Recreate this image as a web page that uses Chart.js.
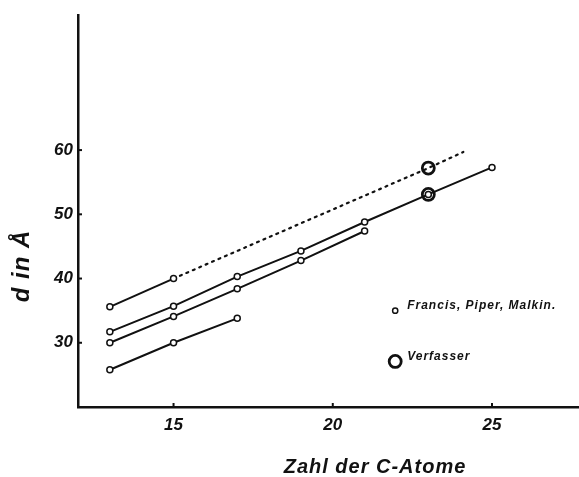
<!DOCTYPE html>
<html>
<head>
<meta charset="utf-8">
<script src="https://cdn.jsdelivr.net/npm/chart.js@4.4.1/dist/chart.umd.min.js"></script>
<style>
  html, body { margin: 0; padding: 0; background: #fff; }
  #wrap { width: 579px; height: 477px; }
</style>
</head>
<body>
<div id="wrap"><canvas id="myChart" width="579" height="477"></canvas></div>
<script>
// Zahl der C-Atome (x) gegen d in Å (y)
var xTicks = [15, 20, 25];
var yTicks = [30, 40, 50, 60];

var seriesAX = [13, 15];
var seriesAY = [35.6, 40.0];

var dottedX = [15, 23, 24.1];
var dottedY = [40.0, 57.2, 59.7];

var seriesBX = [13, 15, 17, 19, 21, 23, 25];
var seriesBY = [31.7, 35.7, 40.3, 44.3, 48.8, 53.1, 57.3];

var seriesCX = [13, 15, 17, 19, 21];
var seriesCY = [30.0, 34.1, 38.4, 42.8, 47.4];

var seriesDX = [13, 15, 17];
var seriesDY = [25.8, 30.0, 33.8];

var verfasserX = [23, 23];
var verfasserY = [57.2, 53.1];

var legendLabels = ["Francis, Piper, Malkin.", "Verfasser"];
var legendX = [21.96, 21.96];
var legendY = [35.0, 27.1];

var INK = "#111";
var FONT = "'Liberation Sans', Arial, sans-serif";

function toPoints(xs, ys) {
    return xs.map(function (x, i) {
        return { x: x, y: ys[i] };
    });
}

function smallLine(xs, ys) {
    return {
        data: toPoints(xs, ys),
        borderColor: INK,
        borderWidth: 2,
        pointRadius: 3,
        pointBorderWidth: 1.5,
        pointBorderColor: INK,
        pointBackgroundColor: "#fff",
        showLine: true,
        tension: 0,
    };
}

var datasets = [
    smallLine(seriesAX, seriesAY),
    {
        data: toPoints(dottedX, dottedY),
        borderColor: INK,
        borderWidth: 2.2,
        borderDash: [2, 5],
        borderCapStyle: "round",
        pointRadius: 0,
        showLine: true,
    },
    smallLine(seriesBX, seriesBY),
    smallLine(seriesCX, seriesCY),
    smallLine(seriesDX, seriesDY),
    {
        data: toPoints(verfasserX, verfasserY),
        showLine: false,
        pointRadius: 6,
        pointBorderWidth: 2.8,
        pointBorderColor: INK,
        pointBackgroundColor: "rgba(255,255,255,0)",
    },
    // legend markers
    {
        data: [{ x: legendX[0], y: legendY[0] }],
        showLine: false,
        pointRadius: 2.6,
        pointBorderWidth: 1.5,
        pointBorderColor: INK,
        pointBackgroundColor: "#fff",
    },
    {
        data: [{ x: legendX[1], y: legendY[1] }],
        showLine: false,
        pointRadius: 6,
        pointBorderWidth: 2.8,
        pointBorderColor: INK,
        pointBackgroundColor: "#fff",
    },
];

var decorPlugin = {
    id: "decor",
    afterDraw: function (chart) {
        var ctx = chart.ctx;
        var xs = chart.scales.x;
        var ys = chart.scales.y;
        var area = chart.chartArea;
        ctx.save();
        ctx.strokeStyle = INK;
        ctx.lineWidth = 2;
        // inward tick marks
        xTicks.forEach(function (v) {
            var px = xs.getPixelForValue(v);
            ctx.beginPath();
            ctx.moveTo(px, area.bottom);
            ctx.lineTo(px, area.bottom - 4);
            ctx.stroke();
        });
        yTicks.forEach(function (v) {
            var py = ys.getPixelForValue(v);
            ctx.beginPath();
            ctx.moveTo(area.left, py);
            ctx.lineTo(area.left + 4, py);
            ctx.stroke();
        });

        ctx.fillStyle = INK;
        // legend texts
        ctx.font = "italic bold 12px " + FONT;
        ctx.letterSpacing = "1px";
        ctx.textBaseline = "middle";
        ctx.textAlign = "left";
        legendLabels.forEach(function (txt, i) {
            var px = xs.getPixelForValue(legendX[i]);
            var py = ys.getPixelForValue(legendY[i]);
            ctx.fillText(txt, px + 12, py - 5);
        });

        // axis titles
        ctx.font = "italic bold 20px " + FONT;
        ctx.textAlign = "center";
        ctx.fillText("Zahl der C-Atome", 375, 467);

        ctx.translate(22, 266);
        ctx.rotate(-Math.PI / 2);
        ctx.font = "italic bold 24px " + FONT;
        ctx.fillText("d in Å", 0, 0);
        ctx.restore();
    },
};

var ctx = document.getElementById("myChart");
new Chart(ctx, {
    type: "scatter",
    data: { datasets: datasets },
    options: {
        responsive: false,
        animation: false,
        layout: { autoPadding: false, padding: { top: 10, right: 1, left: 0, bottom: 0 } },
        plugins: {
            legend: { display: false },
            tooltip: { enabled: false },
        },
        scales: {
            x: {
                type: "linear",
                min: 12,
                max: 27.7,
                afterBuildTicks: function (scale) {
                    scale.ticks = xTicks.map(function (v) { return { value: v }; });
                },
                afterFit: function (scale) { scale.height = 70; },
                grid: { display: false, drawTicks: false },
                border: { display: true, color: INK, width: 2.5 },
                ticks: {
                    padding: 8,
                    color: INK,
                    maxRotation: 0,
                    font: { family: FONT, size: 17, style: "italic", weight: "bold" },
                },
            },
            y: {
                type: "linear",
                min: 20,
                max: 81,
                afterBuildTicks: function (scale) {
                    scale.ticks = yTicks.map(function (v) { return { value: v }; });
                },
                afterFit: function (scale) { scale.width = 78; },
                grid: { display: false, drawTicks: false },
                border: { display: true, color: INK, width: 2.5 },
                ticks: {
                    padding: 5,
                    color: INK,
                    font: { family: FONT, size: 17, style: "italic", weight: "bold" },
                },
            },
        },
    },
    plugins: [decorPlugin],
});
</script>
</body>
</html>
